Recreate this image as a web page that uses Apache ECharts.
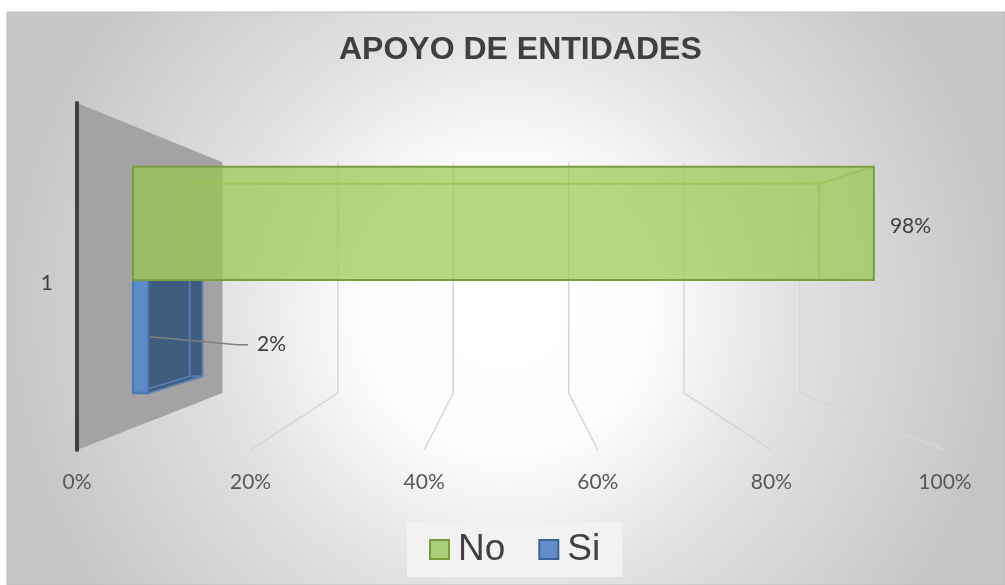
<html>
<head>
<meta charset="utf-8">
<script src="https://cdn.jsdelivr.net/npm/echarts@6/dist/echarts.min.js"></script>
</head>
<body style="margin:0;background:#fff">
<div style="width:1005px;height:585px" id="chartmain"></div>
<script type="text/javascript">
    // datos
    var categories = ['1'];
    var seriesNames = ['No', 'Si'];
    var noValues = [0.98];
    var siValues = [0.02];
    var tickValues = [0, 0.2, 0.4, 0.6, 0.8, 1];

    // perspectiva del grafico 3D de Excel
    var WALL = 0.665;     // plano del fondo
    var FRONT = 0.871;    // cara frontal de las barras
    var DEPTH = 0.85;     // profundidad de la barra
    var VP_DY = 3.5;      // desplazamiento del punto de fuga
    var BAR_SHARE = 0.75; // parte de la banda ocupada por las barras

    var looks = {
        No: { fill: 'rgba(151,200,74,0.7)', border: '#7a9f3f', edge: 'rgba(150,196,88,0.85)', side: 'rgba(120,160,60,0.7)', legend: '#a9cf79', legendBorder: '#789c3c' },
        Si: { fill: '#5b8bc8', border: '#4a78b4', edge: 'rgba(90,130,180,0.9)', side: '#3f5d7f', legend: '#628dc8', legendBorder: '#3b6396' }
    };

    function persp(c, p, s) {
        return [c[0] + (p[0] - c[0]) * s, c[1] + (p[1] - c[1]) * s];
    }

    function pct(v) {
        return Math.round(v * 100) + '%';
    }

    function center(api, cat) {
        var m = api.coord([0.5, cat]);
        return [m[0], m[1] + VP_DY];
    }

    function wallItem(params, api) {
        var cat = api.value(1);
        var band = api.size([0, 1])[1];
        var mid = api.coord([api.value(0), cat]);
        var c = center(api, cat);
        var top = [mid[0], mid[1] - band / 2];
        var bot = [mid[0], mid[1] + band / 2];
        return {
            type: 'polygon',
            shape: { points: [top, persp(c, top, WALL), persp(c, bot, WALL), bot] },
            style: { fill: '#a3a3a3' },
            silent: true
        };
    }

    function gridItem(params, api) {
        var cat = api.value(1);
        var band = api.size([0, 1])[1];
        var mid = api.coord([api.value(0), cat]);
        var c = center(api, cat);
        var top = [mid[0], mid[1] - band / 2];
        var bot = [mid[0], mid[1] + band / 2];
        return {
            type: 'polyline',
            shape: { points: [persp(c, top, WALL), persp(c, bot, WALL), bot] },
            style: { stroke: '#d6d6d6', lineWidth: 1.5, fill: null },
            silent: true
        };
    }

    function barItem(slot, look) {
        return function (params, api) {
            var cat = api.value(1), val = api.value(0);
            var c = center(api, cat);
            var band = api.size([0, 1])[1];
            var h = band * BAR_SHARE / 2;
            var y0 = c[1] - h + slot * h, y1 = y0 + h;
            var x0 = api.coord([0, cat])[0], x1 = api.coord([val, cat])[0];
            var pts = [[x0, y0], [x1, y0], [x1, y1], [x0, y1]];
            var F = pts.map(function (p) { return persp(c, p, FRONT); });
            var B = pts.map(function (p) { return persp(c, p, FRONT * DEPTH); });
            var kids = [];
            var faces = [];
            if (F[1][0] < c[0] - 1) faces.push([F[1], B[1], B[2], F[2]]);
            if (F[0][0] > c[0] + 1) faces.push([F[0], B[0], B[3], F[3]]);
            if (F[0][1] > c[1] + 1) faces.push([F[0], B[0], B[1], F[1]]);
            if (F[3][1] < c[1] - 1) faces.push([F[3], B[3], B[2], F[2]]);
            faces.forEach(function (f) {
                kids.push({ type: 'polygon', shape: { points: f }, style: { fill: look.side } });
            });
            kids.push({ type: 'polygon', shape: { points: F }, style: { fill: look.fill } });
            // aristas del fondo vistas a traves de la barra
            kids.push({ type: 'polygon', shape: { points: B }, style: { fill: null, stroke: look.edge, lineWidth: 2 } });
            for (var i = 0; i < 4; i++) {
                kids.push({ type: 'line', shape: { x1: F[i][0], y1: F[i][1], x2: B[i][0], y2: B[i][1] }, style: { stroke: look.edge, lineWidth: 2 } });
            }
            kids.push({ type: 'polygon', shape: { points: F }, style: { fill: null, stroke: look.border, lineWidth: 2 } });

            var right = F[1][0], my = (F[0][1] + F[3][1]) / 2;
            var font = { fontSize: 21, fontFamily: 'Lato, "Open Sans", sans-serif', fill: '#404040', verticalAlign: 'middle', align: 'left' };
            if (slot === 0) {
                kids.push({ type: 'text', style: Object.assign({ text: pct(val), x: right + 16, y: my + 3 }, font) });
            } else {
                kids.push({ type: 'polyline', shape: { points: [[right + 2, my], [right + 89, my + 8], [right + 100, my + 8]] }, style: { stroke: '#7f7f7f', lineWidth: 1.5, fill: null } });
                kids.push({ type: 'text', style: Object.assign({ text: pct(val), x: right + 109, y: my + 8 }, font) });
            }
            return { type: 'group', children: kids };
        };
    }

    window.onload = function () {
        var option = {
            animation: false,
            graphic: [{
                type: 'rect',
                z: -10,
                silent: true,
                shape: { x: 7, y: 12, width: 998, height: 573 },
                style: {
                    fill: {
                        type: 'radial', x: 0.5, y: 0.52, r: 0.87,
                        colorStops: [
                            { offset: 0, color: '#ffffff' },
                            { offset: 0.28, color: '#fdfdfd' },
                            { offset: 0.57, color: '#e2e2e2' },
                            { offset: 1, color: '#c6c6c6' }
                        ]
                    },
                    stroke: '#bdbdbd',
                    lineWidth: 1
                }
            }],
            title: {
                text: 'APOYO DE ENTIDADES',
                left: 334,
                top: 29,
                textStyle: { fontSize: 32, fontWeight: 'bold', color: '#404040', fontFamily: '"Liberation Sans", Arial, sans-serif' }
            },
            legend: {
                data: [
                    { name: 'No', itemStyle: { color: looks.No.legend, borderColor: looks.No.legendBorder, borderWidth: 2 } },
                    { name: 'Si', itemStyle: { color: looks.Si.legend, borderColor: looks.Si.legendBorder, borderWidth: 2 } }
                ],
                left: 407,
                bottom: 8,
                icon: 'rect',
                itemWidth: 19,
                itemHeight: 19,
                itemGap: 33,
                padding: [9, 22, 9, 22],
                backgroundColor: '#f2f2f2',
                selectedMode: false,
                textStyle: { fontSize: 37, color: '#404040', fontFamily: '"Liberation Sans", Arial, sans-serif', padding: [0, 0, 0, 4] }
            },
            grid: { left: 77, right: 60, top: 103, bottom: 135, containLabel: false },
            xAxis: {
                type: 'value', min: 0, max: 1, interval: 0.2,
                axisLine: { show: false }, axisTick: { show: false }, splitLine: { show: false },
                axisLabel: { formatter: pct, margin: 22, fontSize: 21, color: '#595959', fontFamily: 'Lato, "Open Sans", sans-serif' }
            },
            yAxis: {
                type: 'category', data: categories,
                axisLine: { show: true, lineStyle: { color: '#404040', width: 4, cap: 'round' } },
                axisTick: { show: false }, splitLine: { show: false },
                axisLabel: { margin: 24, fontSize: 21, color: '#404040', fontFamily: 'Lato, "Open Sans", sans-serif', verticalAlign: 'top', lineHeight: 13 }
            },
            series: [
                { name: 'wall', type: 'custom', renderItem: wallItem, data: [[tickValues[0], 0]], encode: { x: 0, y: 1 }, silent: true, z: -1 },
                { name: 'grid', type: 'custom', renderItem: gridItem, data: tickValues.slice(1).map(function (t) { return [t, 0]; }), encode: { x: 0, y: 1 }, silent: true, z: 1 },
                { name: seriesNames[1], type: 'custom', renderItem: barItem(1, looks.Si), data: siValues.map(function (v, i) { return [v, i]; }), encode: { x: 0, y: 1 }, itemStyle: { color: looks.Si.legend }, z: 3 },
                { name: seriesNames[0], type: 'custom', renderItem: barItem(0, looks.No), data: noValues.map(function (v, i) { return [v, i]; }), encode: { x: 0, y: 1 }, itemStyle: { color: looks.No.legend }, z: 4 }
            ]
        };
        var myChart = echarts.init(document.getElementById('chartmain'));
        myChart.setOption(option);
    };
</script>
</body>
</html>
